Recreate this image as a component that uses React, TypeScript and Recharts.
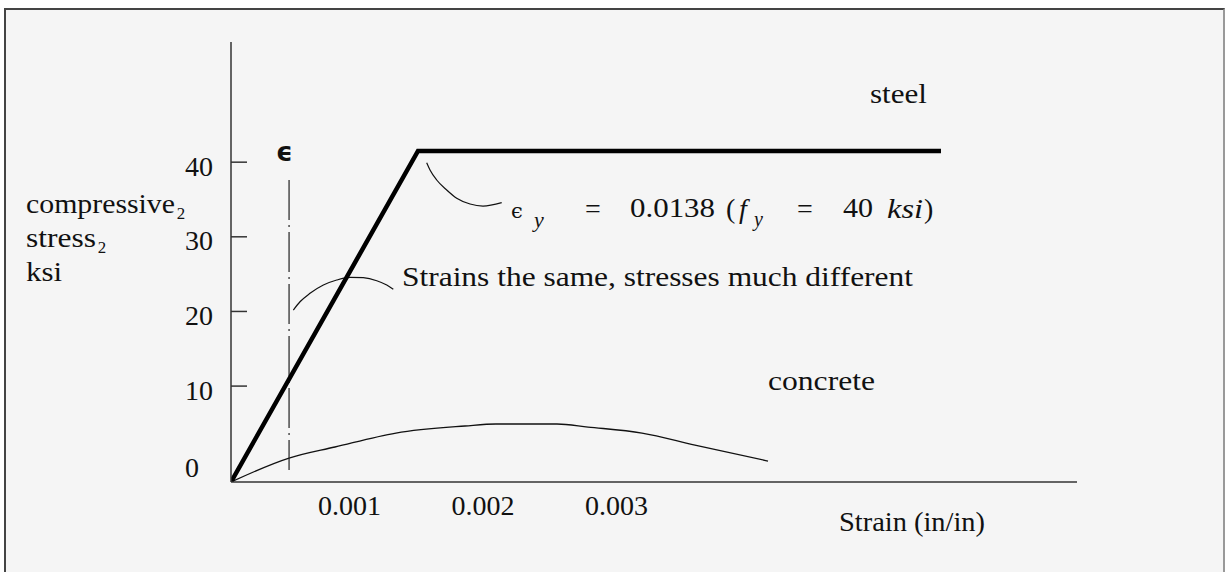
import React from 'react';
import { ComposedChart, Line, XAxis, YAxis, Customized } from 'recharts';

// ---- data (strain in in/in, stress in ksi) ----
const strainTicks = [0.001, 0.002, 0.003];
const stressTicks = [0, 10, 20, 30, 40];

const steelStrain = [0.000112, 0.001513, 0.005431];
const steelStress = [-2.85, 41.5, 41.5];

const concreteStrain = [0.000112, 0.000547, 0.000891, 0.001348, 0.001865, 0.002097, 0.002554, 0.002787, 0.003191, 0.003588, 0.004135];
const concreteStress = [-2.85, 0.36, 1.84, 3.71, 4.65, 4.92, 4.92, 4.51, 3.71, 2.1, -0.04];

const epsMarkStrain = [0.000547, 0.000547];
const epsMarkStress = [37.6, -1.25];

const yieldLeaderStrain = [0.001578, 0.001603, 0.001653, 0.001728, 0.001803, 0.001903, 0.002, 0.00214];
const yieldLeaderStress = [39.92, 38.95, 37.61, 36.27, 35.16, 34.39, 34.12, 34.57];

const compareLeaderStrain = [0.000579, 0.000629, 0.000704, 0.000804, 0.000904, 0.001004, 0.001103, 0.001204, 0.001279, 0.001328];
const compareLeaderStress = [20.19, 21.3, 22.43, 23.54, 24.21, 24.57, 24.52, 24.12, 23.54, 22.96];

const zip = (xs: number[], ys: number[]) => xs.map((x, i) => ({ x, y: ys[i] }));

const steel = zip(steelStrain, steelStress);
const concrete = zip(concreteStrain, concreteStress);
const epsMark = zip(epsMarkStrain, epsMarkStress);
const yieldLeader = zip(yieldLeaderStrain, yieldLeaderStress);
const compareLeader = zip(compareLeaderStrain, compareLeaderStress);

const SERIF = '"Liberation Serif", "Times New Roman", serif';

const XTick = (props: any) => {
  const { x, payload } = props;
  return (
    <text x={x} y={515} textAnchor="middle" fontFamily={SERIF} fontSize={28} fill="#111">
      {Number(payload.value).toFixed(3)}
    </text>
  );
};

const YTick = (props: any) => {
  const { y, payload } = props;
  if (payload.value === 0) {
    return (
      <text x={185} y={y + 16.5} textAnchor="start" fontFamily={SERIF} fontSize={28} fill="#111">
        0
      </text>
    );
  }
  return (
    <g>
      <line x1={231} x2={247} y1={y} y2={y} stroke="#333" strokeWidth={1.5} />
      <text x={213} y={y + 13.5} textAnchor="end" fontFamily={SERIF} fontSize={28} fill="#111">
        {payload.value}
      </text>
    </g>
  );
};

const Annotations = () => (
  <g fill="#111">
    <text x={870} y={103} fontFamily={SERIF} fontSize={28} textLength={57} lengthAdjust="spacingAndGlyphs">steel</text>
    <text x={768} y={390} fontFamily={SERIF} fontSize={28} textLength={107} lengthAdjust="spacingAndGlyphs">concrete</text>
    <text x={839} y={531} fontFamily={SERIF} fontSize={28} textLength={146} lengthAdjust="spacingAndGlyphs">Strain (in/in)</text>
    <text x={26} y={213} fontFamily={SERIF} fontSize={28}>
      <tspan textLength={149} lengthAdjust="spacingAndGlyphs">compressive</tspan>
      <tspan x={176} fontSize={28}>₂</tspan>
    </text>
    <text x={26} y={247} fontFamily={SERIF} fontSize={28}>
      <tspan textLength={70} lengthAdjust="spacingAndGlyphs">stress</tspan>
      <tspan x={97} fontSize={28}>₂</tspan>
    </text>
    <text x={26} y={281} fontFamily={SERIF} fontSize={28} textLength={36} lengthAdjust="spacingAndGlyphs">ksi</text>
    <text x={402} y={286} fontFamily={SERIF} fontSize={28} textLength={511} lengthAdjust="spacingAndGlyphs">
      Strains the same, stresses much different
    </text>
    <text x={276} y={161} fontFamily='"DejaVu Sans", sans-serif' fontWeight="bold" fontSize={26}>ϵ</text>
    <text x={511} y={218} fontFamily='"DejaVu Serif", serif' fontSize={21}>ϵ</text>
    <text x={534} y={227} fontFamily={SERIF} fontStyle="italic" fontSize={22}>y</text>
    <text x={593} y={218} fontFamily={SERIF} fontSize={28} textAnchor="middle">=</text>
    <text x={630} y={217} fontFamily={SERIF} fontSize={28} textLength={85} lengthAdjust="spacingAndGlyphs">0.0138</text>
    <text x={726} y={218} fontFamily={SERIF} fontSize={28}>(</text>
    <text x={739} y={218} fontFamily={SERIF} fontStyle="italic" fontSize={28}>f</text>
    <text x={754} y={226} fontFamily={SERIF} fontStyle="italic" fontSize={20}>y</text>
    <text x={805} y={218} fontFamily={SERIF} fontSize={28} textAnchor="middle">=</text>
    <text x={843} y={217} fontFamily={SERIF} fontSize={28} textLength={30} lengthAdjust="spacingAndGlyphs">40</text>
    <text x={887} y={218} fontFamily={SERIF} fontStyle="italic" fontSize={28} textLength={36} lengthAdjust="spacingAndGlyphs">ksi</text>
    <text x={924} y={218} fontFamily={SERIF} fontSize={28}>)</text>
  </g>
);

export default function App() {
  return (
    <div style={{ position: 'absolute', left: 0, top: 0, width: 1225, height: 572, background: '#ffffff', overflow: 'hidden' }}>
      <div
        style={{
          position: 'absolute',
          left: 4,
          top: 8,
          width: 1217,
          height: 580,
          background: '#f5f5f5',
          borderTop: '2px solid #444',
          borderLeft: '2px solid #444',
          borderRight: '2px solid #999',
        }}
      />
      <div style={{ position: 'absolute', left: 0, top: 0 }}>
        <ComposedChart width={1225} height={572} margin={{ top: 42, right: 148, bottom: 0, left: 0 }}>
          <XAxis
            type="number"
            dataKey="x"
            domain={[0.000112, 0.00645]}
            allowDataOverflow
            ticks={strainTicks}
            interval={0}
            height={90}
            axisLine={{ stroke: '#333', strokeWidth: 1.5 }}
            tickLine={false}
            tick={<XTick />}
          />
          <YAxis
            type="number"
            dataKey="y"
            domain={[-2.85, 56.1]}
            allowDataOverflow
            ticks={stressTicks}
            interval={0}
            width={231}
            axisLine={{ stroke: '#333', strokeWidth: 1.5 }}
            tickLine={false}
            tick={<YTick />}
          />
          <Line data={concrete} dataKey="y" type="monotone" stroke="#111" strokeWidth={1.3} dot={false} isAnimationActive={false} />
          <Line data={epsMark} dataKey="y" type="linear" stroke="#222" strokeWidth={1.2} strokeDasharray="40 5 2 5" dot={false} isAnimationActive={false} />
          <Line data={yieldLeader} dataKey="y" type="monotone" stroke="#111" strokeWidth={1.2} dot={false} isAnimationActive={false} />
          <Line data={compareLeader} dataKey="y" type="monotone" stroke="#111" strokeWidth={1.2} dot={false} isAnimationActive={false} />
          <Line data={steel} dataKey="y" type="linear" stroke="#000" strokeWidth={4.5} strokeLinejoin="miter" dot={false} isAnimationActive={false} />
          <Customized component={Annotations} />
        </ComposedChart>
      </div>
    </div>
  );
}
